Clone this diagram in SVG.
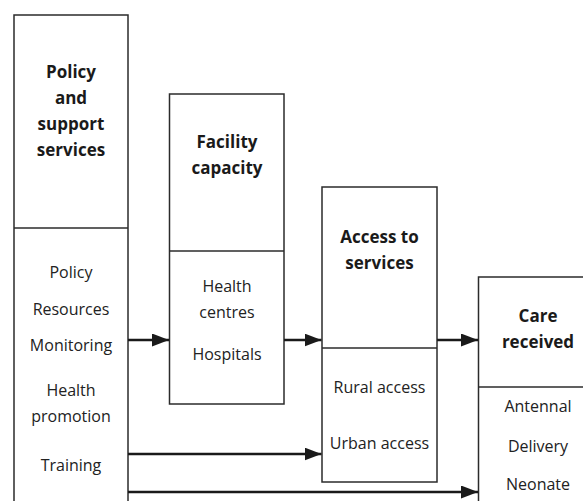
<svg xmlns="http://www.w3.org/2000/svg" width="583" height="501" viewBox="0 0 583 501">
<style>
.box{fill:#fff;stroke:#2b2b2b;stroke-width:1.5}
.div{stroke:#2b2b2b;stroke-width:1.5}
.t{font-family:"Open Sans","Noto Sans",sans-serif;font-weight:bold;font-size:17px;fill:#1a1a1a;text-anchor:middle}
.b{font-family:"Open Sans","Noto Sans",sans-serif;font-size:16px;fill:#222;text-anchor:middle}
.c{stroke:#1a1a1a;stroke-width:2.5;fill:none}
</style>
<defs>
<marker id="ah" markerUnits="userSpaceOnUse" markerWidth="18" markerHeight="14" refX="17" refY="6.5" orient="auto">
<path d="M0,0 L17,6.5 L0,13 Z" fill="#1a1a1a"/>
</marker>
</defs>
<g id="policy">
<rect class="box" x="14" y="15" width="114" height="500"/>
<line class="div" x1="14" y1="228" x2="128" y2="228"/>
<text class="t" x="71" y="78">Policy</text>
<text class="t" x="71" y="104">and</text>
<text class="t" x="71" y="130">support</text>
<text class="t" x="71" y="156">services</text>
<text class="b" x="71" y="278">Policy</text>
<text class="b" x="71" y="315">Resources</text>
<text class="b" x="71" y="351">Monitoring</text>
<text class="b" x="71" y="396">Health</text>
<text class="b" x="71" y="422">promotion</text>
<text class="b" x="71" y="471">Training</text>
</g>
<g id="facility">
<rect class="box" x="169.5" y="94" width="114.5" height="310"/>
<line class="div" x1="169.5" y1="251" x2="284" y2="251"/>
<text class="t" x="227" y="148">Facility</text>
<text class="t" x="227" y="174">capacity</text>
<text class="b" x="227" y="292">Health</text>
<text class="b" x="227" y="318">centres</text>
<text class="b" x="227" y="360">Hospitals</text>
</g>
<g id="access">
<rect class="box" x="322" y="187" width="115" height="295"/>
<line class="div" x1="322" y1="348" x2="437" y2="348"/>
<text class="t" x="379.5" y="243">Access to</text>
<text class="t" x="379.5" y="269">services</text>
<text class="b" x="379.5" y="393">Rural access</text>
<text class="b" x="379.5" y="449">Urban access</text>
</g>
<g id="care">
<rect class="box" x="478.5" y="277" width="120" height="240"/>
<line class="div" x1="478.5" y1="387" x2="583" y2="387"/>
<text class="t" x="538" y="322">Care</text>
<text class="t" x="538" y="348">received</text>
<text class="b" x="538" y="412">Antennal</text>
<text class="b" x="538" y="452">Delivery</text>
<text class="b" x="538" y="490">Neonate</text>
</g>
<g id="connectors">
<line class="c" x1="128" y1="340" x2="169" y2="340" marker-end="url(#ah)"/>
<line class="c" x1="284" y1="340" x2="321.5" y2="340" marker-end="url(#ah)"/>
<line class="c" x1="437" y1="340" x2="478" y2="340" marker-end="url(#ah)"/>
<line class="c" x1="128" y1="454" x2="321.5" y2="454" marker-end="url(#ah)"/>
<line class="c" x1="128" y1="492" x2="478" y2="492" marker-end="url(#ah)"/>
</g>
</svg>
